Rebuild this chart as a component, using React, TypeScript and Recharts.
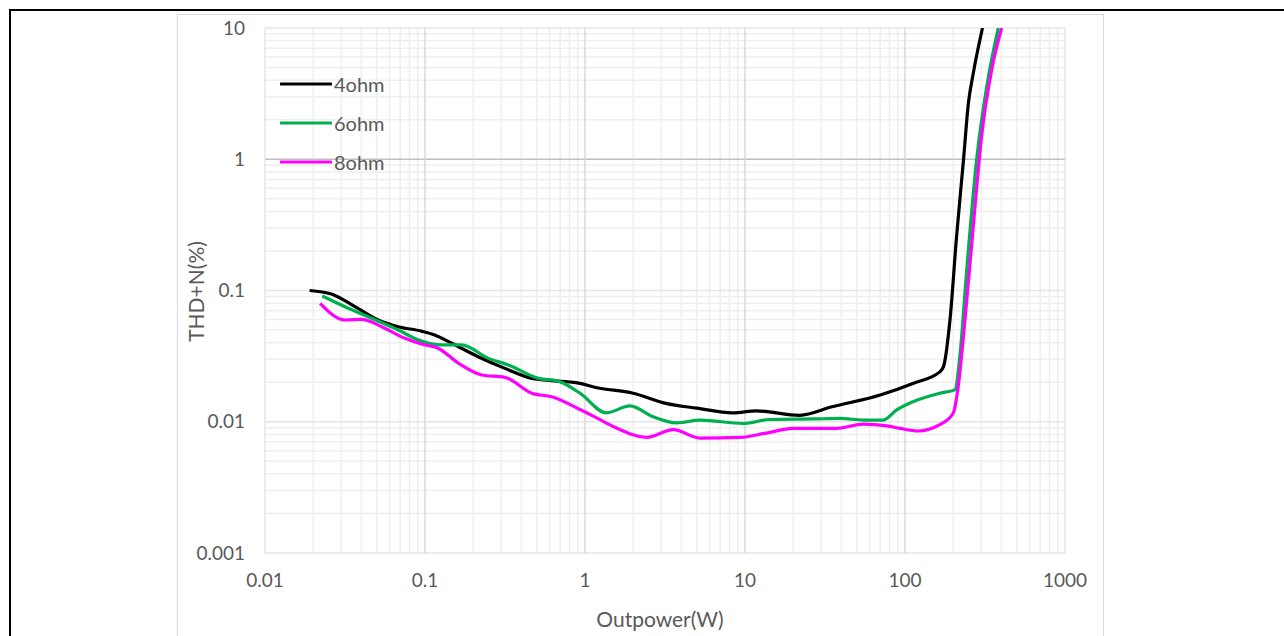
import { LineChart, Line, XAxis, YAxis, ReferenceLine, Legend } from "recharts";

// x = output power (W), y = THD+N (%)
const ohm4X = [0.019, 0.026, 0.0365, 0.051, 0.068, 0.095, 0.115, 0.147, 0.215, 0.316, 0.464, 0.68, 0.93, 1.15, 2.0, 3.2, 5.0, 8.4, 11.8, 22, 35, 70, 112, 165, 174, 191, 210, 232, 249, 267, 305];
const ohm4Y = [0.1, 0.094, 0.0753, 0.0596, 0.053, 0.049, 0.0458, 0.0396, 0.0313, 0.0255, 0.0214, 0.0204, 0.0196, 0.0183, 0.0165, 0.0138, 0.0127, 0.0117, 0.0121, 0.0112, 0.013, 0.016, 0.0196, 0.024, 0.0263, 0.0596, 0.257, 0.986, 2.67, 4.5, 10];

const ohm6X = [0.0228, 0.0316, 0.0464, 0.068, 0.091, 0.127, 0.169, 0.249, 0.332, 0.51, 0.68, 0.93, 1.36, 1.91, 2.67, 3.74, 5.24, 9.77, 14.3, 26.7, 39.3, 55, 73, 88.7, 112, 165, 205, 221, 243, 280, 324, 383];
const ohm6Y = [0.0908, 0.0753, 0.0614, 0.05, 0.042, 0.0385, 0.0385, 0.0304, 0.0271, 0.0214, 0.0204, 0.0165, 0.0117, 0.0132, 0.0109, 0.0098, 0.0103, 0.0097, 0.0104, 0.0105, 0.0106, 0.0103, 0.0103, 0.0123, 0.0142, 0.0165, 0.0175, 0.033, 0.143, 0.986, 3.57, 10];

const ohm8X = [0.0221, 0.0316, 0.0402, 0.0536, 0.075, 0.095, 0.121, 0.162, 0.226, 0.316, 0.464, 0.62, 0.93, 1.15, 1.5, 2.43, 3.56, 5.24, 9.3, 13.6, 20, 37, 55, 77, 93, 120, 165, 200, 215, 237, 267, 301, 348, 402];
const ohm8Y = [0.0799, 0.0596, 0.0603, 0.053, 0.0432, 0.0391, 0.0363, 0.0279, 0.0227, 0.0218, 0.0165, 0.0155, 0.0124, 0.0109, 0.0092, 0.0076, 0.0087, 0.0075, 0.0076, 0.0082, 0.0089, 0.0089, 0.0096, 0.0093, 0.0089, 0.0085, 0.0095, 0.0116, 0.0185, 0.0596, 0.306, 1.49, 4.79, 10];

const xTicks = [0.01, 0.1, 1, 10, 100, 1000];
const yTicks = [0.001, 0.01, 0.1, 1, 10];
const minorSteps = [2, 3, 4, 5, 6, 7, 8, 9];

const toPoints = (xs: number[], ys: number[]) => xs.map((x, i) => ({ x, y: ys[i] }));

const series = [
  { name: "4ohm", color: "#000000", data: toPoints(ohm4X, ohm4Y) },
  { name: "6ohm", color: "#00b050", data: toPoints(ohm6X, ohm6Y) },
  { name: "8ohm", color: "#ff00ff", data: toPoints(ohm8X, ohm8Y) },
];

const xMinor = xTicks.slice(0, -1).flatMap((d) => minorSteps.map((m) => d * m));
const yMinor = yTicks.slice(0, -1).flatMap((d) => minorSteps.map((m) => d * m));

const textColor = "#595959";

function LegendBox({ payload }: any) {
  return (
    <div>
      {(payload || []).map((entry: any) => (
        <div key={entry.value} style={{ display: "flex", alignItems: "center", height: 39 }}>
          <svg width={52} height={6}>
            <line x1={1} y1={3} x2={51} y2={3} stroke={entry.color} strokeWidth={3.2} strokeLinecap="round" />
          </svg>
          <span style={{ color: textColor, fontSize: 20, marginLeft: 2 }}>{entry.value}</span>
        </div>
      ))}
    </div>
  );
}

export default function App() {
  return (
    <div style={{ position: "fixed", inset: 0, overflow: "hidden", background: "#fff", fontFamily: "Lato, sans-serif" }}>
      <div style={{ position: "absolute", left: 9, top: 9, width: 1400, height: 700, borderTop: "2px solid #000", borderLeft: "2px solid #000" }} />
      <div style={{ position: "absolute", left: 177, top: 14, width: 925, height: 700, border: "1px solid #d9d9d9" }} />
      <div style={{ position: "absolute", left: 178, top: 15 }}>
        <LineChart width={925} height={621} margin={{ top: 13, right: 38, bottom: 0, left: 0 }}>
          <XAxis
            dataKey="x"
            type="number"
            scale="log"
            domain={[0.01, 1000]}
            ticks={xTicks}
            allowDataOverflow
            height={83}
            axisLine={{ stroke: "#d9d9d9" }}
            tickLine={false}
            tickMargin={15}
            tick={{ fill: textColor, fontSize: 19 }}
            label={{ value: "Outpower(W)", position: "insideBottom", offset: 9, dx: -5, fill: textColor, fontSize: 21 }}
          />
          <YAxis
            type="number"
            scale="log"
            domain={[0.001, 10]}
            ticks={yTicks}
            allowDataOverflow
            width={87}
            axisLine={{ stroke: "#d9d9d9" }}
            tickLine={false}
            tickMargin={14}
            tick={{ fill: textColor, fontSize: 19 }}
            label={{ value: "THD+N(%)", angle: -90, position: "center", dx: -25, dy: 1, fill: textColor, fontSize: 21 }}
          />
          {xMinor.map((v) => (
            <ReferenceLine key={`xm-${v}`} x={v} stroke="#efefef" strokeWidth={1.5} />
          ))}
          {yMinor.map((v) => (
            <ReferenceLine key={`ym-${v}`} y={v} stroke="#efefef" strokeWidth={1.5} />
          ))}
          {yTicks.slice(1, -1).map((v) => (
            <ReferenceLine key={`yM-${v}`} y={v} stroke={v === 1 ? "#bfbfbf" : "#e6e6e6"} strokeWidth={1.5} />
          ))}
          {xTicks.slice(1, -1).map((v) => (
            <ReferenceLine key={`xM-${v}`} x={v} stroke="#d9d9d9" strokeWidth={1.5} />
          ))}
          <ReferenceLine y={10} stroke="#d9d9d9" />
          <ReferenceLine x={1000} stroke="#d9d9d9" />
          <Legend
            layout="vertical"
            align="center"
            verticalAlign="middle"
            content={<LegendBox />}
            wrapperStyle={{ position: "absolute", left: 102, top: 49, width: 120 }}
          />
          {series.map((s) => (
            <Line
              key={s.name}
              data={s.data}
              dataKey="y"
              name={s.name}
              type="monotone"
              stroke={s.color}
              strokeWidth={3.2}
              dot={false}
              activeDot={false}
              isAnimationActive={false}
            />
          ))}
        </LineChart>
      </div>
    </div>
  );
}
